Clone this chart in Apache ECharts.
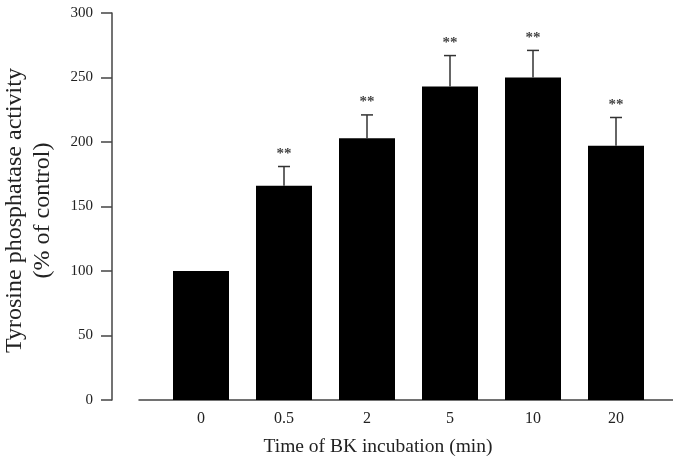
<!DOCTYPE html>
<html>
<head>
<meta charset="utf-8">
<script src="https://cdn.jsdelivr.net/npm/echarts@6/dist/echarts.min.js"></script>
<style>
html,body{margin:0;padding:0;background:#fff;}
#chart{width:673px;height:472px;}
</style>
</head>
<body>
<div id="chart"></div>
<script>
var categories = ['0', '0.5', '2', '5', '10', '20'];
var means = [100, 166, 203, 243, 250, 197];
var errors = [0, 15, 18, 24, 21, 22];
var significance = ['', '**', '**', '**', '**', '**'];
var yTicks = [0, 50, 100, 150, 200, 250, 300];

var font = '"Liberation Serif", "Times New Roman", serif';
var chart = echarts.init(document.getElementById('chart'));

var errData = categories.map(function (c, i) { return [i, means[i], errors[i], significance[i]]; });

chart.setOption({
  animation: false,
  backgroundColor: '#fff',
  grid: [
    { left: 159.5, right: 15.5, top: 13, bottom: 72, containLabel: false, outerBoundsMode: 'none' },
    { left: 139, right: 0, top: 13, bottom: 72, containLabel: false, outerBoundsMode: 'none' }
  ],
  xAxis: [
    {
      type: 'category', gridIndex: 0, data: categories,
      axisLine: { show: false }, axisTick: { show: false },
      axisLabel: { fontFamily: font, fontSize: 16, color: '#222', margin: 11 },
      name: 'Time of BK incubation (min)', nameLocation: 'middle', nameGap: 37,
      nameTextStyle: { fontFamily: font, fontSize: 19.5, color: '#222', padding: [0, 61, 0, 0] }
    },
    {
      type: 'value', gridIndex: 1, min: 0, max: 1,
      axisLine: { show: true, lineStyle: { color: '#444', width: 1.5 } },
      axisTick: { show: false }, axisLabel: { show: false }, splitLine: { show: false }
    }
  ],
  yAxis: [
    {
      type: 'value', gridIndex: 0, min: yTicks[0], max: yTicks[yTicks.length - 1], interval: 50,
      offset: 47.5,
      axisLine: { show: true, lineStyle: { color: '#444', width: 1.5 } },
      axisTick: { show: true, inside: false, length: 11, lineStyle: { color: '#444', width: 1.5 } },
      axisLabel: { fontFamily: font, fontSize: 15, color: '#222', margin: 19 },
      splitLine: { show: false },
      name: 'Tyrosine phosphatase activity\n(% of control)', nameLocation: 'middle', nameGap: 55, nameRotate: 90,
      nameTextStyle: { fontFamily: font, fontSize: 24, color: '#222', lineHeight: 28, padding: [0, 8, 0, 0] }
    },
    { type: 'value', gridIndex: 1, show: false, min: 0, max: 1 }
  ],
  series: [
    {
      type: 'bar', xAxisIndex: 0, yAxisIndex: 0, data: means, barWidth: 56,
      itemStyle: { color: '#000' }
    },
    {
      type: 'custom', xAxisIndex: 0, yAxisIndex: 0, data: errData, z: 3,
      renderItem: function (params, api) {
        var idx = api.value(0), m = api.value(1), e = api.value(2);
        var sig = significance[params.dataIndex];
        var base = api.coord([idx, m]);
        var top = api.coord([idx, m + e]);
        var children = [];
        if (e > 0) {
          children.push({ type: 'line', shape: { x1: base[0], y1: base[1], x2: top[0], y2: top[1] }, style: { stroke: '#333', lineWidth: 1.5 } });
          children.push({ type: 'line', shape: { x1: top[0] - 6, y1: top[1], x2: top[0] + 6, y2: top[1] }, style: { stroke: '#333', lineWidth: 1.5 } });
        }
        if (sig) {
          children.push({ type: 'text', style: { text: sig, x: top[0], y: top[1] - 5, align: 'center', verticalAlign: 'bottom', font: 'bold 15px ' + font, fill: '#444' } });
        }
        return { type: 'group', children: children };
      }
    }
  ]
});
</script>
</body>
</html>
